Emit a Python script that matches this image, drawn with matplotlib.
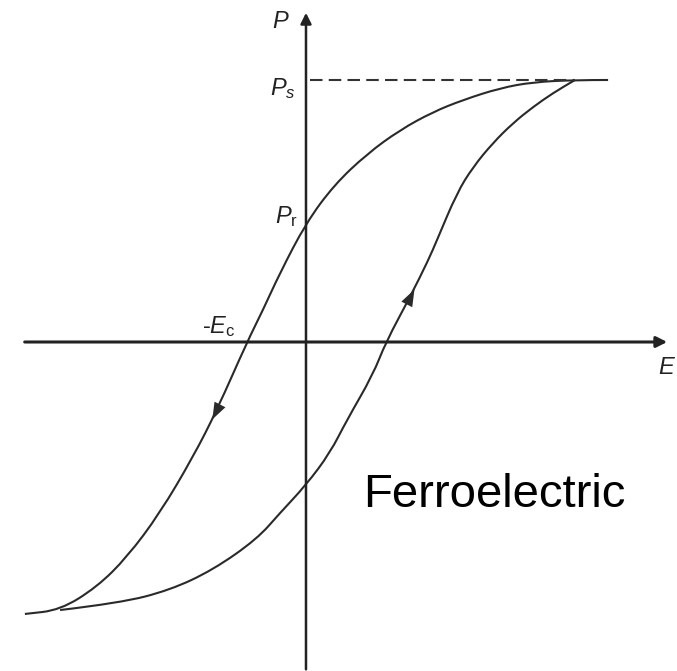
import numpy as np
import matplotlib.pyplot as plt
from matplotlib.path import Path
from matplotlib.patches import PathPatch

plt.rcParams['font.family'] = ['Liberation Sans', 'DejaVu Sans']
plt.rcParams['mathtext.fontset'] = 'custom'
plt.rcParams['mathtext.rm'] = 'Liberation Sans'
plt.rcParams['mathtext.it'] = 'Liberation Sans:italic'

# hysteresis loop, E and P normalised so that the saturation point is (1, 1)
# upper branch: field decreasing from saturation
E_down = [1.123, 1.0, 0.844, 0.721, 0.584, 0.472, 0.349, 0.227, 0.105, 0.0,
          -0.097, -0.160, -0.219, -0.331, -0.420, -0.543, -0.665, -0.777, -0.914, -1.045]
P_down = [1.0, 1.0, 0.992, 0.969, 0.924, 0.878, 0.809, 0.718, 0.600, 0.454,
          0.263, 0.122, 0.0, -0.260, -0.439, -0.653, -0.821, -0.935, -1.023, -1.038]
# lower branch: field increasing back to saturation
E_up = [-0.914, -0.691, -0.506, -0.346, -0.182, -0.097, 0.0, 0.089, 0.152, 0.249,
        0.297, 0.387, 0.455, 0.487, 0.561, 0.621, 0.695, 0.770, 0.844, 0.918, 1.0]
P_up = [-1.023, -0.996, -0.947, -0.870, -0.752, -0.653, -0.546, -0.424, -0.298, -0.125,
        0.0, 0.172, 0.313, 0.389, 0.569, 0.668, 0.760, 0.836, 0.897, 0.950, 1.0]

P_s = 1.0
P_r = 0.454
E_c = -0.219

curve_col = '#2a2a2a'


def smooth_path(xs, ys):
    # quadratic bezier through the midpoints of the polyline
    pts = np.column_stack([xs, ys])
    verts = [pts[0]]
    codes = [Path.MOVETO]
    for i in range(1, len(pts) - 1):
        mid = (pts[i] + pts[i + 1]) / 2
        verts += [pts[i], mid]
        codes += [Path.CURVE3, Path.CURVE3]
    verts.append(pts[-1])
    codes.append(Path.LINETO)
    return Path(verts, codes)


fig = plt.figure(figsize=(6.77, 6.71), dpi=100)
ax = fig.add_axes([0, 0, 1, 1])
ax.set_xlim(-1.1375, 1.3792)
ax.set_ylim(-1.2557, 1.3053)
ax.axis('off')

# axes with arrow heads
ax.annotate('', xy=(1.353, 0), xytext=(-1.056, 0),
            arrowprops=dict(arrowstyle='-|>', color='#222222', lw=2.2, mutation_scale=16))
ax.annotate('', xy=(0, 1.267), xytext=(0, -1.26),
            arrowprops=dict(arrowstyle='-|>', color='#222222', lw=1.8, mutation_scale=16))

# saturation level
ax.plot([0.015, 1.0], [P_s, P_s], color='#333333', lw=1.5, ls=(0, (6, 3)))

ax.add_patch(PathPatch(smooth_path(E_down, P_down), fill=False, color=curve_col, lw=1.5))
ax.add_patch(PathPatch(smooth_path(E_up, P_up), fill=False, color=curve_col, lw=1.5))

# direction arrows on the branches
head = '-|>,head_length=0.55,head_width=0.2'
ax.annotate('', xy=(-0.353, -0.305), xytext=(-0.318, -0.235),
            arrowprops=dict(arrowstyle=head, color=curve_col, lw=0, mutation_scale=22))
ax.annotate('', xy=(0.408, 0.210), xytext=(0.373, 0.140),
            arrowprops=dict(arrowstyle=head, color=curve_col, lw=0, mutation_scale=22))

lab = dict(fontsize=17, color='#222222')
ax.text(-0.125, 1.222, '$\\mathit{P}$', ha='left', va='center', **lab)
ax.text(-0.135, 0.967, '$\\mathit{P}_\\mathit{s}$', ha='left', va='center', **lab)
ax.text(-0.117, 0.48, '$\\mathit{P}_\\mathrm{r}$', ha='left', va='center', **lab)
ax.text(-0.385, 0.06, '-$\\mathit{E}_\\mathrm{c}$', ha='left', va='center', **lab)
ax.text(1.31, -0.10, '$\\mathit{E}$', ha='left', va='center', **lab)

ax.text(0.212, -0.63, 'Ferroelectric', fontsize=34, color='black', ha='left', va='baseline')

fig.savefig('out.png', dpi=100)
